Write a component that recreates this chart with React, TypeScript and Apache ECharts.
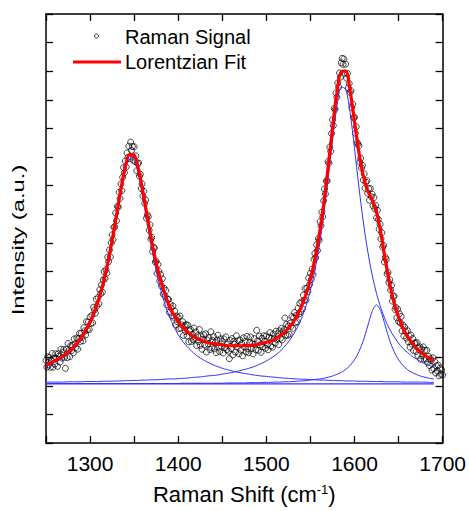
import React, { useEffect, useRef } from "react";
import * as echarts from "echarts";

// ---------- data ----------
// x axis (Raman shift, cm^-1)
const xMin = 1250;
const xMax = 1700;
const xTickStep = 50;
const xLabelledTicks = [1300, 1400, 1500, 1600, 1700];
// y axis (arbitrary intensity units, no labels)
const yMin = 0;
const yMax = 15;
const yTickStep = 1;

// measured Raman signal, one point per cm^-1 from 1250 to 1700
const signalStart = 1250;
const signalStep = 1;
const ramanSignal = [
  2.89, 2.65, 3.01, 2.73, 2.99, 2.65, 2.87, 3.13, 2.65, 2.96,
  2.76, 3.12, 2.96, 2.68, 3.12, 3.04, 2.83, 3.28, 2.97, 3.16,
  3.26, 3.0, 2.61, 3.28, 2.98, 3.48, 3.23, 3.02, 3.4, 3.23,
  3.42, 3.15, 3.64, 3.47, 3.34, 3.67, 3.28, 3.65, 3.83, 3.55,
  3.84, 3.69, 3.57, 4.03, 3.92, 3.78, 4.24, 3.95, 4.23, 3.97,
  4.41, 4.18, 4.46, 4.2, 4.75, 4.65, 4.54, 5.03, 4.79, 5.08,
  4.87, 5.36, 5.22, 5.53, 5.27, 5.7, 5.99, 5.75, 6.06, 5.94,
  6.5, 6.34, 6.75, 6.51, 7.0, 7.28, 7.11, 7.54, 7.56, 8.04,
  7.77, 8.27, 8.25, 8.77, 8.55, 9.06, 8.82, 9.29, 9.63, 9.45,
  9.86, 9.65, 10.14, 9.99, 10.38, 9.94, 10.52, 10.23, 10.37, 9.89,
  10.36, 9.84, 10.04, 9.52, 9.77, 9.79, 9.33, 9.4, 8.9, 9.06,
  8.63, 8.8, 8.38, 8.5, 7.86, 7.98, 7.91, 7.44, 7.63, 7.13,
  7.19, 6.69, 6.84, 6.82, 6.33, 6.35, 5.93, 6.24, 6.01, 5.66,
  5.89, 5.49, 5.74, 5.21, 5.41, 5.14, 5.33, 4.83, 5.03, 5.02,
  4.57, 4.85, 4.72, 4.45, 4.79, 4.4, 4.61, 4.13, 4.44, 4.24,
  4.39, 4.0, 4.44, 4.02, 4.13, 4.24, 3.76, 4.1, 3.9, 4.14,
  3.74, 4.12, 3.54, 3.92, 3.97, 3.55, 3.8, 3.61, 4.02, 3.65,
  3.88, 3.41, 3.75, 3.55, 3.97, 3.42, 3.74, 3.28, 3.62, 3.78,
  3.43, 3.82, 3.18, 3.6, 3.46, 3.68, 3.27, 3.89, 3.33, 3.58,
  3.72, 3.29, 3.51, 3.16, 3.6, 3.77, 3.35, 3.19, 3.64, 3.38,
  3.55, 3.15, 3.64, 3.34, 3.71, 3.26, 3.46, 3.21, 2.95, 3.58,
  3.3, 3.65, 3.08, 3.55, 3.45, 3.18, 3.75, 3.35, 3.58, 3.12,
  3.6, 3.25, 3.48, 3.05, 3.68, 3.35, 3.55, 3.18, 3.73, 3.29,
  3.16, 3.51, 3.71, 3.3, 3.47, 3.12, 3.65, 3.45, 3.26, 3.94,
  3.57, 3.24, 3.74, 3.42, 3.17, 3.66, 3.37, 3.75, 3.55, 3.31,
  3.74, 3.43, 3.26, 3.7, 3.86, 3.39, 3.66, 3.35, 3.81, 3.65,
  3.49, 3.91, 3.63, 3.82, 3.44, 3.92, 3.66, 4.01, 3.61, 3.89,
  3.96, 4.37, 3.77, 4.15, 3.76, 4.09, 3.8, 4.19, 4.08, 4.42,
  4.01, 4.38, 4.56, 4.21, 4.46, 4.24, 4.71, 4.51, 4.88, 4.6,
  4.94, 4.69, 5.17, 4.99, 5.4, 5.0, 5.41, 5.29, 5.77, 5.54,
  5.93, 5.72, 6.08, 5.89, 6.42, 6.63, 6.48, 6.93, 6.73, 7.15,
  7.09, 7.74, 7.6, 8.07, 7.91, 8.47, 8.88, 8.71, 9.16, 9.17,
  9.84, 9.78, 10.35, 10.2, 10.82, 11.3, 11.1, 11.7, 11.66, 12.24,
  12.09, 12.59, 12.44, 12.94, 12.79, 13.29, 13.45, 13.24, 13.43, 12.93,
  13.25, 12.76, 12.92, 12.41, 12.57, 12.26, 12.32, 11.73, 11.85, 11.37,
  11.39, 10.83, 11.06, 10.5, 10.46, 10.39, 9.82, 9.96, 9.62, 9.71,
  9.19, 9.41, 8.91, 9.12, 9.17, 8.73, 8.9, 8.49, 8.9, 8.61,
  8.7, 8.29, 8.58, 8.19, 8.31, 7.87, 8.14, 7.82, 7.47, 7.65,
  7.14, 7.35, 6.85, 6.91, 6.33, 6.49, 6.42, 5.91, 5.97, 5.61,
  5.71, 5.35, 5.51, 4.96, 5.12, 5.14, 4.67, 4.74, 4.38, 4.68,
  4.25, 4.52, 4.2, 4.42, 3.92, 4.12, 3.74, 4.05, 3.9, 3.67,
  3.93, 3.54, 3.74, 3.35, 3.77, 3.46, 3.65, 3.23, 3.48, 3.51,
  3.2, 3.51, 3.06, 3.32, 3.36, 2.93, 3.28, 3.05, 3.36, 2.93,
  3.24, 2.94, 3.24, 2.82, 3.03, 2.71, 2.95, 2.88, 2.55, 2.98,
  2.6, 2.85, 2.45, 2.7, 2.52, 2.72, 2.35, 2.62, 2.4, 2.55, 2.38,
];

// fitted curves, one value every 5 cm^-1 from 1250 to 1690
const fitStart = 1250;
const fitStep = 5;
const lorentzFit = [
  2.74, 2.8, 2.88, 2.96, 3.06, 3.18, 3.32, 3.49, 3.69, 3.93,
  4.23, 4.6, 5.05, 5.6, 6.28, 7.08, 7.97, 8.88, 9.66, 10.09,
  10.06, 9.57, 8.78, 7.9, 7.04, 6.3, 5.69, 5.19, 4.79, 4.48,
  4.24, 4.04, 3.89, 3.77, 3.68, 3.6, 3.55, 3.5, 3.47, 3.45,
  3.43, 3.41, 3.4, 3.4, 3.4, 3.4, 3.41, 3.42, 3.45, 3.48,
  3.52, 3.57, 3.64, 3.74, 3.86, 4.01, 4.21, 4.46, 4.79, 5.2,
  5.73, 6.41, 7.27, 8.35, 9.62, 11.0, 12.24, 12.99, 13.0, 12.31,
  11.24, 10.17, 9.34, 8.81, 8.5, 8.07, 7.32, 6.39, 5.56, 4.89,
  4.4, 4.02, 3.73, 3.51, 3.32, 3.18, 3.06, 2.96, 2.87,
];
const peakD = [
  2.68, 2.74, 2.81, 2.9, 2.99, 3.11, 3.24, 3.41, 3.61, 3.85,
  4.14, 4.5, 4.95, 5.5, 6.16, 6.96, 7.84, 8.74, 9.51, 9.93,
  9.88, 9.37, 8.57, 7.66, 6.79, 6.02, 5.38, 4.85, 4.42, 4.08,
  3.79, 3.56, 3.37, 3.22, 3.08, 2.97, 2.88, 2.8, 2.73, 2.67,
  2.61, 2.57, 2.53, 2.49, 2.46, 2.43, 2.41, 2.38, 2.36, 2.34,
  2.33, 2.31, 2.3, 2.28, 2.27, 2.26, 2.25, 2.24, 2.23, 2.23,
  2.22, 2.21, 2.2, 2.2, 2.19, 2.19, 2.18, 2.18, 2.17, 2.17,
  2.17, 2.16, 2.16, 2.16, 2.15, 2.15, 2.15, 2.14, 2.14, 2.14,
  2.14, 2.13, 2.13, 2.13, 2.13, 2.13, 2.13, 2.12, 2.12,
];
const peakG = [
  2.13, 2.13, 2.13, 2.13, 2.13, 2.14, 2.14, 2.14, 2.14, 2.15,
  2.15, 2.15, 2.15, 2.16, 2.16, 2.16, 2.17, 2.17, 2.18, 2.18,
  2.19, 2.19, 2.2, 2.2, 2.21, 2.21, 2.22, 2.23, 2.24, 2.24,
  2.25, 2.26, 2.27, 2.29, 2.3, 2.31, 2.33, 2.35, 2.36, 2.38,
  2.41, 2.43, 2.46, 2.49, 2.53, 2.57, 2.61, 2.66, 2.72, 2.79,
  2.87, 2.96, 3.07, 3.19, 3.35, 3.53, 3.76, 4.03, 4.37, 4.8,
  5.35, 6.03, 6.89, 7.96, 9.22, 10.56, 11.76, 12.45, 12.37, 11.55,
  10.3, 8.95, 7.73, 6.71, 5.88, 5.23, 4.71, 4.3, 3.97, 3.71,
  3.49, 3.31, 3.17, 3.04, 2.94, 2.85, 2.77, 2.71, 2.65,
];
const peakDPrime = [
  2.08, 2.08, 2.08, 2.08, 2.08, 2.08, 2.08, 2.08, 2.08, 2.08,
  2.08, 2.08, 2.08, 2.08, 2.08, 2.08, 2.08, 2.08, 2.08, 2.08,
  2.08, 2.08, 2.08, 2.08, 2.08, 2.08, 2.08, 2.08, 2.08, 2.08,
  2.08, 2.09, 2.09, 2.09, 2.09, 2.09, 2.09, 2.09, 2.09, 2.09,
  2.09, 2.1, 2.1, 2.1, 2.1, 2.1, 2.11, 2.11, 2.11, 2.11,
  2.12, 2.12, 2.13, 2.13, 2.14, 2.14, 2.15, 2.16, 2.17, 2.18,
  2.2, 2.22, 2.24, 2.26, 2.3, 2.34, 2.4, 2.47, 2.57, 2.71,
  2.91, 3.19, 3.58, 4.09, 4.6, 4.83, 4.6, 4.09, 3.58, 3.19,
  2.91, 2.71, 2.57, 2.47, 2.4, 2.34, 2.3, 2.26, 2.24,
];
const baselineX = [1250, 1690];
const baselineY = [2.07, 2.07];

// ---------- styling ----------
const FONT = '"Liberation Sans", Arial, Helvetica, sans-serif';
const BLUE = "#3030ff";
const RED = "#ff0000";

const fitPairs = (arr: number[]) => arr.map((v, i) => [fitStart + i * fitStep, v]);

export default function App() {
  const ref = useRef<HTMLDivElement>(null);

  useEffect(() => {
    if (!ref.current) return;
    const chart = echarts.init(ref.current, undefined, { renderer: "svg" });

    const axisLine = { show: true, onZero: false, lineStyle: { color: "#000", width: 1.5 } };
    const axisTick = { show: true, inside: true, length: 7, lineStyle: { color: "#000", width: 1.3 } };

    const blueLine = (name: string, data: number[][]) => ({
      name,
      type: "line",
      data,
      showSymbol: false,
      symbol: "none",
      smooth: 0.3,
      lineStyle: { color: BLUE, width: 1 },
      z: 3,
      silent: true,
    });

    const option: any = {
      animation: false,
      backgroundColor: "#fff",
      grid: { left: 46, top: 14, width: 397, height: 429 },
      xAxis: [
        {
          type: "value",
          position: "bottom",
          min: xMin,
          max: xMax,
          interval: xTickStep,
          axisLine,
          axisTick,
          splitLine: { show: false },
          axisLabel: {
            show: true,
            margin: 10,
            fontSize: 21,
            color: "#000",
            fontFamily: FONT,
            showMinLabel: true,
            showMaxLabel: true,
            formatter: (v: number) => (xLabelledTicks.includes(v) ? String(v) : ""),
          },
          name: "Raman Shift (cm{sup|-1})",
          nameLocation: "middle",
          nameGap: 40,
          nameTextStyle: {
            fontSize: 22,
            color: "#000",
            fontFamily: FONT,
            rich: {
              sup: { fontSize: 13, color: "#000", fontFamily: FONT, verticalAlign: "top" },
            },
          },
        },
        {
          type: "value",
          position: "top",
          min: xMin,
          max: xMax,
          interval: xTickStep,
          axisLine,
          axisTick,
          splitLine: { show: false },
          axisLabel: { show: false },
        },
      ],
      yAxis: [
        {
          type: "value",
          position: "left",
          min: yMin,
          max: yMax,
          interval: yTickStep,
          axisLine,
          axisTick,
          splitLine: { show: false },
          axisLabel: { show: false },
        },
        {
          type: "value",
          position: "right",
          min: yMin,
          max: yMax,
          interval: yTickStep,
          axisLine,
          axisTick,
          splitLine: { show: false },
          axisLabel: { show: false },
        },
      ],
      series: [
        {
          name: "Raman Signal",
          type: "scatter",
          data: ramanSignal.map((v, i) => [signalStart + i * signalStep, v]),
          symbol: "circle",
          symbolSize: 6,
          itemStyle: { color: "rgba(255,255,255,0)", borderColor: "#000", borderWidth: 0.9 },
          z: 2,
          silent: true,
        },
        {
          name: "Baseline",
          type: "line",
          data: baselineX.map((x, i) => [x, baselineY[i]]),
          showSymbol: false,
          symbol: "none",
          lineStyle: { color: BLUE, width: 1.2 },
          z: 3,
          silent: true,
        },
        blueLine("D peak", fitPairs(peakD)),
        blueLine("G peak", fitPairs(peakG)),
        blueLine("D' peak", fitPairs(peakDPrime)),
        {
          name: "Lorentzian Fit",
          type: "line",
          data: fitPairs(lorentzFit),
          showSymbol: false,
          symbol: "none",
          smooth: 0.3,
          lineStyle: { color: RED, width: 3.2 },
          z: 4,
          silent: true,
        },
      ],
      graphic: [
        {
          type: "text",
          x: 18,
          y: 240,
          rotation: Math.PI / 2,
          scaleX: 1.4,
          style: {
            text: "Intensity (a.u.)",
            fontSize: 17,
            fontFamily: FONT,
            fill: "#000",
            align: "center",
            verticalAlign: "middle",
            textAlign: "center",
            textVerticalAlign: "middle",
          },
        },
        {
          type: "circle",
          shape: { cx: 96.5, cy: 36, r: 2 },
          style: { fill: "none", stroke: "#000", lineWidth: 0.8 },
        },
        {
          type: "text",
          x: 125,
          y: 36.5,
          style: {
            text: "Raman Signal",
            fontSize: 20,
            fontFamily: FONT,
            fill: "#000",
            verticalAlign: "middle",
            textVerticalAlign: "middle",
          },
        },
        {
          type: "line",
          shape: { x1: 73, y1: 62, x2: 121, y2: 62 },
          style: { stroke: RED, lineWidth: 3 },
        },
        {
          type: "text",
          x: 125,
          y: 62,
          style: {
            text: "Lorentzian Fit",
            fontSize: 20,
            fontFamily: FONT,
            fill: "#000",
            verticalAlign: "middle",
            textVerticalAlign: "middle",
          },
        },
      ],
    };

    chart.setOption(option);
    return () => chart.dispose();
  }, []);

  return (
    <div
      ref={ref}
      style={{ position: "fixed", left: 0, top: 0, width: 469, height: 511, background: "#fff" }}
    />
  );
}
